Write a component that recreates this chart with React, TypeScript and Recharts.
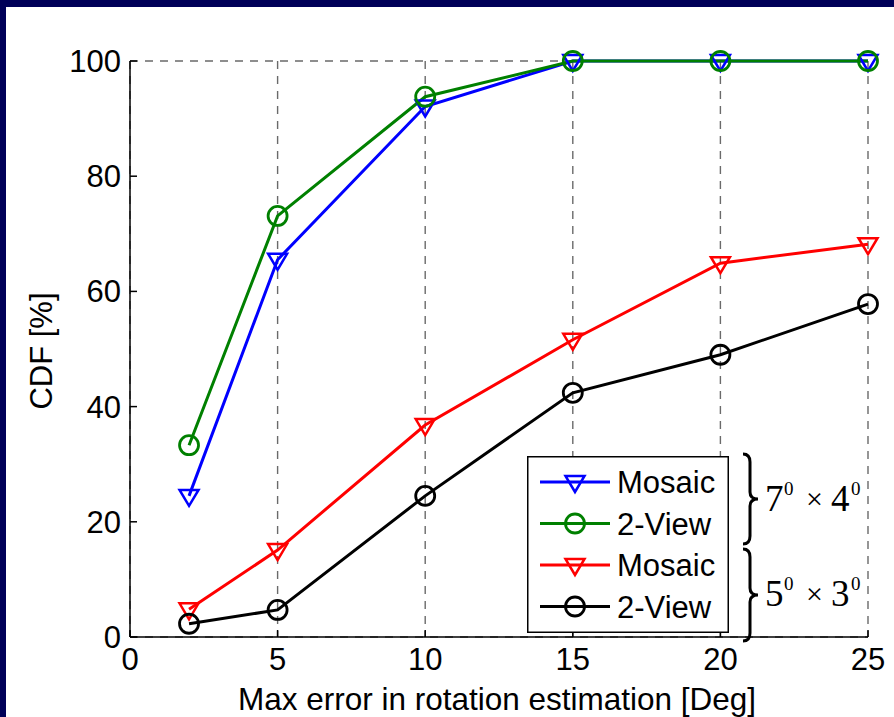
import { useEffect } from "react";
import { CartesianGrid, Legend, Line, LineChart, XAxis, YAxis } from "recharts";

const X_VALUES = [2, 5, 10, 15, 20, 25];
const MOSAIC_7X4 = [24.5, 65.5, 92.1, 100, 100, 100];
const VIEW2_7X4 = [33.3, 73.1, 93.8, 100, 100, 100];
const MOSAIC_5X3 = [4.8, 15.1, 36.8, 51.6, 64.9, 68.2];
const VIEW2_5X3 = [2.3, 4.7, 24.5, 42.4, 49.0, 57.8];

const X_TICKS = [0, 5, 10, 15, 20, 25];
const Y_TICKS = [0, 20, 40, 60, 80, 100];

const SERIES = [
  { key: "mosaic74", name: "Mosaic", color: "#0000ff", marker: "tri", values: MOSAIC_7X4 },
  { key: "view74", name: "2-View", color: "#008000", marker: "circ", values: VIEW2_7X4 },
  { key: "mosaic53", name: "Mosaic", color: "#ff0000", marker: "tri", values: MOSAIC_5X3 },
  { key: "view53", name: "2-View", color: "#000000", marker: "circ", values: VIEW2_5X3 }
];

const data = X_VALUES.map((x, i) => {
  const row: Record<string, number> = { x };
  SERIES.forEach((s) => {
    row[s.key] = s.values[i];
  });
  return row;
});

const FONT = "'Liberation Sans', Arial, Helvetica, sans-serif";
const SERIF = "'Liberation Serif', 'Times New Roman', serif";
const NAVY = "#000058";

function markerShape(marker: string, cx: number, cy: number, color: string, key?: string) {
  if (marker === "tri") {
    return (
      <path
        key={key}
        d={`M${cx - 9.5},${cy - 6} L${cx + 9.5},${cy - 6} L${cx},${cy + 10} Z`}
        fill="none"
        stroke={color}
        strokeWidth={2.5}
      />
    );
  }
  return <circle key={key} cx={cx} cy={cy} r={9.5} fill="none" stroke={color} strokeWidth={2.8} />;
}

function makeDot(marker: string, color: string) {
  return (props: any) => {
    const { cx, cy, index } = props;
    if (cx == null || cy == null) return <g key={`d-${index}`} />;
    return markerShape(marker, cx, cy, color, `d-${marker}-${color}-${index}`);
  };
}

function BottomTick(props: any) {
  const { x, y, payload } = props;
  return (
    <g>
      <line x1={x} x2={x} y1={y} y2={y - 7} stroke="#000" strokeWidth={1.5} />
      <text x={x} y={y + 33} textAnchor="middle" fontFamily={FONT} fontSize={31} fill="#000">
        {payload.value}
      </text>
    </g>
  );
}

function LeftTick(props: any) {
  const { x, y, payload } = props;
  return (
    <g>
      <line x1={x} x2={x + 7} y1={y} y2={y} stroke="#000" strokeWidth={1.5} />
      <text x={x - 9} y={y + 11} textAnchor="end" fontFamily={FONT} fontSize={31} fill="#000">
        {payload.value}
      </text>
    </g>
  );
}

function TopTick(props: any) {
  const { x, y } = props;
  return <line x1={x} x2={x} y1={y} y2={y + 7} stroke="#000" strokeWidth={1.5} />;
}

function RightTick(props: any) {
  const { x, y } = props;
  return <line x1={x} x2={x - 7} y1={y} y2={y} stroke="#000" strokeWidth={1.5} />;
}

// legend keeps the plotting order (recharts sorts its payload by name)
function LegendBox() {
  return (
    <svg width={202} height={177} style={{ display: "block" }}>
      <rect x={0.75} y={0.75} width={200.5} height={175.5} fill="#fff" stroke="#000" strokeWidth={1.5} />
      {SERIES.map((s, i) => {
        const cy = 26 + i * 41.5;
        return (
          <g key={s.key}>
            <line x1={13} x2={83} y1={cy} y2={cy} stroke={s.color} strokeWidth={3} />
            {markerShape(s.marker, 48, cy, s.color)}
            <text x={90} y={cy + 11} fontFamily={FONT} fontSize={31} fill="#000">
              {s.name}
            </text>
          </g>
        );
      })}
    </svg>
  );
}

function bracePath(x: number, top: number, bottom: number) {
  const mid = (top + bottom) / 2;
  return [
    `M${x - 7},${top}`,
    `Q${x},${top} ${x},${top + 8}`,
    `L${x},${mid - 7}`,
    `Q${x},${mid} ${x + 8},${mid}`,
    `Q${x},${mid} ${x},${mid + 7}`,
    `L${x},${bottom - 8}`,
    `Q${x},${bottom} ${x - 7},${bottom}`
  ].join(" ");
}

function SizeLabel({ a, b, y }: { a: string; b: string; y: number }) {
  return (
    <g fontFamily={SERIF} fill="#000">
      <text x={765} y={y} fontSize={37}>{a}</text>
      <text x={784} y={y - 16} fontSize={19}>0</text>
      <text x={806} y={y - 2} fontSize={30}>×</text>
      <text x={831} y={y} fontSize={37}>{b}</text>
      <text x={851} y={y - 16} fontSize={19}>0</text>
    </g>
  );
}

export default function App() {
  useEffect(() => {
    document.body.style.margin = "0";
    document.documentElement.style.overflow = "hidden";
  }, []);

  return (
    <div style={{ position: "absolute", left: 0, top: 0, width: 894, height: 717, background: "#fff", overflow: "hidden" }}>
      <LineChart
        width={894}
        height={717}
        data={data}
        margin={{ top: 61, right: 26, bottom: 0, left: 0 }}
      >
        <CartesianGrid stroke="#6a6a6a" strokeDasharray="8 7" strokeWidth={1.4} />
        <XAxis
          xAxisId="bottom"
          dataKey="x"
          type="number"
          domain={[0, 25]}
          ticks={X_TICKS}
          height={80}
          axisLine={{ stroke: "#000", strokeWidth: 1.5 }}
          tickLine={false}
          tickSize={0}
          tickMargin={0}
          tick={<BottomTick />}
          interval={0}
        />
        <XAxis
          xAxisId="top"
          orientation="top"
          dataKey="x"
          type="number"
          domain={[0, 25]}
          ticks={X_TICKS}
          height={0}
          axisLine={{ stroke: "#000", strokeWidth: 1.5 }}
          tickLine={false}
          tickSize={0}
          tickMargin={0}
          tick={<TopTick />}
          interval={0}
        />
        <YAxis
          yAxisId="left"
          type="number"
          domain={[0, 100]}
          ticks={Y_TICKS}
          width={130}
          axisLine={{ stroke: "#000", strokeWidth: 1.5 }}
          tickLine={false}
          tickSize={0}
          tickMargin={0}
          tick={<LeftTick />}
          interval={0}
        />
        <YAxis
          yAxisId="right"
          orientation="right"
          type="number"
          domain={[0, 100]}
          ticks={Y_TICKS}
          width={0}
          axisLine={{ stroke: "#000", strokeWidth: 1.5 }}
          tickLine={false}
          tickSize={0}
          tickMargin={0}
          tick={<RightTick />}
          interval={0}
        />
        {SERIES.map((s) => (
          <Line
            key={s.key}
            xAxisId="bottom"
            yAxisId="left"
            dataKey={s.key}
            name={s.name}
            type="linear"
            stroke={s.color}
            strokeWidth={3}
            dot={makeDot(s.marker, s.color)}
            activeDot={false}
            isAnimationActive={false}
          />
        ))}
        <Legend
          layout="vertical"
          align="center"
          verticalAlign="middle"
          content={<LegendBox />}
          wrapperStyle={{ left: 527, top: 456, width: 202, height: 177 }}
        />
      </LineChart>
      <svg
        width={894}
        height={717}
        style={{ position: "absolute", left: 0, top: 0, pointerEvents: "none" }}
      >
        <rect x={887} y={7} width={7} height={710} fill="#fff" />
        <text x={497} y={710} textAnchor="middle" fontFamily={FONT} fontSize={31.5} fill="#000">
          Max error in rotation estimation [Deg]
        </text>
        <text
          transform="translate(52,351) rotate(-90)"
          textAnchor="middle"
          fontFamily={FONT}
          fontSize={31}
          fill="#000"
        >
          CDF [%]
        </text>
        <path d={bracePath(750, 454, 544)} fill="none" stroke="#000" strokeWidth={3} />
        <path d={bracePath(750, 549, 641)} fill="none" stroke="#000" strokeWidth={3} />
        <SizeLabel a="7" b="4" y={511} />
        <SizeLabel a="5" b="3" y={606} />
        <rect x={0} y={0} width={894} height={7} fill={NAVY} />
        <rect x={0} y={0} width={6} height={717} fill={NAVY} />
      </svg>
    </div>
  );
}
